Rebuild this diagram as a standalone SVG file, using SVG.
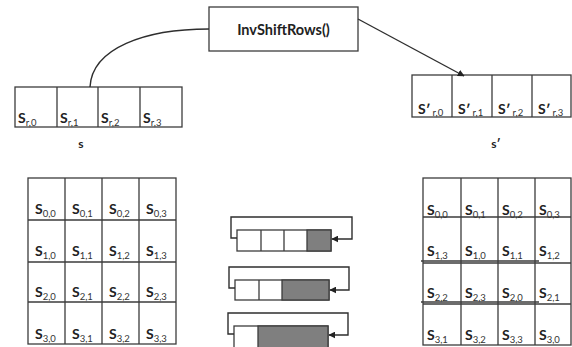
<svg xmlns="http://www.w3.org/2000/svg" width="572" height="347" viewBox="0 0 572 347">
  <defs>
    <style>
      .box { fill: #ffffff; stroke: #3c3c3c; stroke-width: 1.3; }
      .cell { fill: none; stroke: #3c3c3c; stroke-width: 1.3; }
      .shade { fill: #7f7f7f; stroke: #3c3c3c; stroke-width: 1.3; }
      .wire { fill: none; stroke: #2e2e2e; stroke-width: 1.4; }
      .s { font-family: Lato, "Open Sans", "Liberation Sans", sans-serif; font-weight: bold; font-size: 14px; fill: #222222; }
      .sub { font-weight: normal; font-size: 9.5px; fill: #333333; }
      .op { font-family: Lato, "Open Sans", "Liberation Sans", sans-serif; font-weight: bold; font-size: 14.5px; fill: #222222; text-anchor: middle; }
      .name { font-family: Lato, "Open Sans", "Liberation Sans", sans-serif; font-weight: bold; font-size: 12px; fill: #222222; text-anchor: middle; }
    </style>
    <marker id="tip" viewBox="0 0 10 10" refX="9" refY="5" markerWidth="7" markerHeight="7" orient="auto" markerUnits="userSpaceOnUse">
      <path d="M0,0 L10,5 L0,10 z" fill="#222222"/>
    </marker>
  </defs>

  <rect width="572" height="347" fill="#ffffff"/>

  <!-- operation box -->
  <g id="op-invshiftrows">
    <rect class="box" x="209" y="7" width="149" height="44"/>
    <text class="op" x="283.5" y="35">InvShiftRows()</text>
  </g>

  <!-- input row r -->
  <g id="row-s">
    <rect class="box" x="15" y="87" width="167" height="40"/>
    <path class="cell" d="M57,87V127M98,87V127M140,87V127"/>
    <text class="s" x="18" y="123">S<tspan class="sub" dy="3">r,0</tspan></text>
    <text class="s" x="60" y="123">S<tspan class="sub" dy="3">r,1</tspan></text>
    <text class="s" x="101" y="123">S<tspan class="sub" dy="3">r,2</tspan></text>
    <text class="s" x="143" y="123">S<tspan class="sub" dy="3">r,3</tspan></text>
    <text class="name" x="81" y="148">s</text>
  </g>

  <!-- output row r -->
  <g id="row-s-prime">
    <rect class="box" x="412" y="75" width="159" height="42"/>
    <path class="cell" d="M452,75V117M492,75V117M532,75V117"/>
    <text class="s" x="418" y="114">S′<tspan class="sub" dx="2" dy="2">r,0</tspan></text>
    <text class="s" x="458" y="114">S′<tspan class="sub" dx="2" dy="2">r,1</tspan></text>
    <text class="s" x="498" y="114">S′<tspan class="sub" dx="2" dy="2">r,2</tspan></text>
    <text class="s" x="538" y="114">S′<tspan class="sub" dx="2" dy="2">r,3</tspan></text>
    <text class="name" x="496" y="148">s′</text>
  </g>

  <!-- input state -->
  <g id="state-in">
    <rect class="box" x="28" y="178" width="148" height="166"/>
    <path class="cell" d="M65,178V344M102,178V344M139,178V344M28,220H176M28,262H176M28,302H176"/>
    <text class="s" x="35" y="214">S<tspan class="sub" dy="3">0,0</tspan></text>
    <text class="s" x="72" y="214">S<tspan class="sub" dy="3">0,1</tspan></text>
    <text class="s" x="109" y="214">S<tspan class="sub" dy="3">0,2</tspan></text>
    <text class="s" x="146" y="214">S<tspan class="sub" dy="3">0,3</tspan></text>
    <text class="s" x="35" y="256">S<tspan class="sub" dy="3">1,0</tspan></text>
    <text class="s" x="72" y="256">S<tspan class="sub" dy="3">1,1</tspan></text>
    <text class="s" x="109" y="256">S<tspan class="sub" dy="3">1,2</tspan></text>
    <text class="s" x="146" y="256">S<tspan class="sub" dy="3">1,3</tspan></text>
    <text class="s" x="35" y="297">S<tspan class="sub" dy="3">2,0</tspan></text>
    <text class="s" x="72" y="297">S<tspan class="sub" dy="3">2,1</tspan></text>
    <text class="s" x="109" y="297">S<tspan class="sub" dy="3">2,2</tspan></text>
    <text class="s" x="146" y="297">S<tspan class="sub" dy="3">2,3</tspan></text>
    <text class="s" x="35" y="339">S<tspan class="sub" dy="3">3,0</tspan></text>
    <text class="s" x="72" y="339">S<tspan class="sub" dy="3">3,1</tspan></text>
    <text class="s" x="109" y="339">S<tspan class="sub" dy="3">3,2</tspan></text>
    <text class="s" x="146" y="339">S<tspan class="sub" dy="3">3,3</tspan></text>
  </g>

  <!-- shifted state -->
  <g id="state-out">
    <rect class="box" x="423" y="178" width="148" height="167"/>
    <path class="cell" d="M461,178V345M498,178V345M535,178V345M423,217H571M421,261H539M421,302H539"/>
    <path class="cell" d="M423,263H571M423,304H571" stroke-width="0.9"/>
    <text class="s" x="427" y="215">S<tspan class="sub" dy="3">0,0</tspan></text>
    <text class="s" x="465" y="215">S<tspan class="sub" dy="3">0,1</tspan></text>
    <text class="s" x="502" y="215">S<tspan class="sub" dy="3">0,2</tspan></text>
    <text class="s" x="539" y="215">S<tspan class="sub" dy="3">0,3</tspan></text>
    <text class="s" x="427" y="256">S<tspan class="sub" dy="3">1,3</tspan></text>
    <text class="s" x="465" y="256">S<tspan class="sub" dy="3">1,0</tspan></text>
    <text class="s" x="502" y="256">S<tspan class="sub" dy="3">1,1</tspan></text>
    <text class="s" x="539" y="256">S<tspan class="sub" dy="3">1,2</tspan></text>
    <text class="s" x="427" y="298">S<tspan class="sub" dy="3">2,2</tspan></text>
    <text class="s" x="465" y="298">S<tspan class="sub" dy="3">2,3</tspan></text>
    <text class="s" x="502" y="298">S<tspan class="sub" dy="3">2,0</tspan></text>
    <text class="s" x="539" y="298">S<tspan class="sub" dy="3">2,1</tspan></text>
    <text class="s" x="427" y="340">S<tspan class="sub" dy="3">3,1</tspan></text>
    <text class="s" x="465" y="340">S<tspan class="sub" dy="3">3,2</tspan></text>
    <text class="s" x="502" y="340">S<tspan class="sub" dy="3">3,3</tspan></text>
    <text class="s" x="539" y="340">S<tspan class="sub" dy="3">3,0</tspan></text>
  </g>

  <!-- rotation by one byte -->
  <g id="shift-1">
    <rect class="box" x="237" y="230" width="94" height="21"/>
    <rect class="shade" x="307" y="230" width="24" height="21"/>
    <path class="cell" d="M261,230V251M284,230V251"/>
  </g>

  <!-- rotation by two bytes -->
  <g id="shift-2">
    <rect class="box" x="235" y="280" width="94" height="20"/>
    <rect class="shade" x="282" y="280" width="47" height="20"/>
    <path class="cell" d="M259,280V300"/>
  </g>

  <!-- rotation by three bytes -->
  <g id="shift-3">
    <rect class="box" x="234" y="326" width="94" height="23"/>
    <rect class="shade" x="258" y="326" width="70" height="23"/>
  </g>

  <g id="connectors">
    <path class="wire" d="M209,29 C145,29 92,48 90,87"/>
    <path class="wire" d="M358,19 L464,76" marker-end="url(#tip)"/>
    <path class="wire" d="M237,238 H231 V217 H352 V239 H332" marker-end="url(#tip)"/>
    <path class="wire" d="M235,288 H229 V267 H349 V290 H330" marker-end="url(#tip)"/>
    <path class="wire" d="M234,334 H228 V313 H348 V335 H329" marker-end="url(#tip)"/>
  </g>
</svg>
